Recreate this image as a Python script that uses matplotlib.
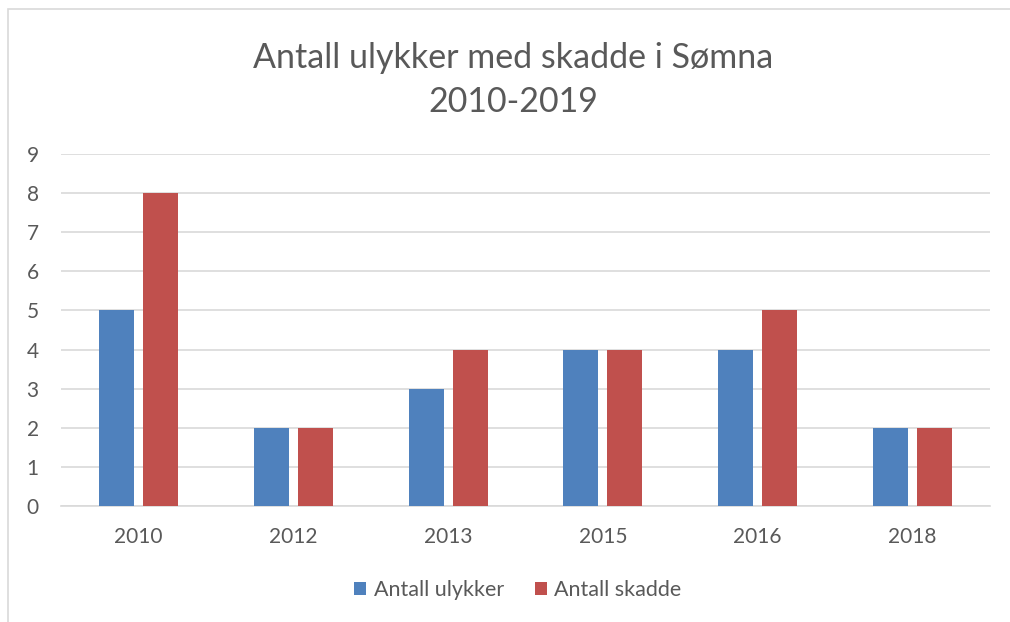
import matplotlib.pyplot as plt
import numpy as np
from matplotlib.patches import Rectangle

years = ["2010", "2012", "2013", "2015", "2016", "2018"]
ulykker = [5, 2, 3, 4, 4, 2]
skadde = [8, 2, 4, 4, 5, 2]

plt.rcParams['font.family'] = ['Lato', 'DejaVu Sans']
grey = '#595959'

fig = plt.figure(figsize=(10.1, 6.22), dpi=100)
ax = fig.add_axes([61/1010, 1-506/622, 929/1010, 352/622])

x = np.arange(len(years))
w = 0.226
off = 0.142
ax.bar(x - off, ulykker, w, color='#4F81BD', label='Antall ulykker', zorder=3)
ax.bar(x + off, skadde, w, color='#C0504D', label='Antall skadde', zorder=3)

ax.set_xlim(-0.5, len(years) - 0.5)
ax.set_ylim(0, 9)
ax.set_yticks(range(0, 10))
ax.set_xticks(x)
ax.set_xticklabels(years)
ax.tick_params(axis='both', length=0, labelsize=15, colors=grey)
ax.tick_params(axis='y', pad=16)
ax.tick_params(axis='x', pad=15)
ax.grid(axis='y', color='#d9d9d9', linewidth=1.2, zorder=0)
for s in ['top', 'right', 'left']:
    ax.spines[s].set_visible(False)
ax.spines['bottom'].set_color('#d9d9d9')
ax.spines['bottom'].set_linewidth(1.2)

fig.text(513/1010, 1-80/622, "Antall ulykker med skadde i Sømna\n2010-2019",
         ha='center', va='center', fontsize=24.5, color=grey, linespacing=1.45)

leg = fig.legend(loc='center', bbox_to_anchor=(518/1010, 1-590/622), ncol=2,
                 frameon=False, fontsize=15.5, handlelength=0.55, handleheight=0.55,
                 handletextpad=0.35, columnspacing=1.45)
for t in leg.get_texts():
    t.set_color(grey)

# chart border
fig.patches.append(Rectangle((8/1010, -0.1), 1.2, 1-9/622+0.1, transform=fig.transFigure,
                             fill=False, edgecolor='#d9d9d9', linewidth=1.2))

fig.savefig('out.png', dpi=100)
